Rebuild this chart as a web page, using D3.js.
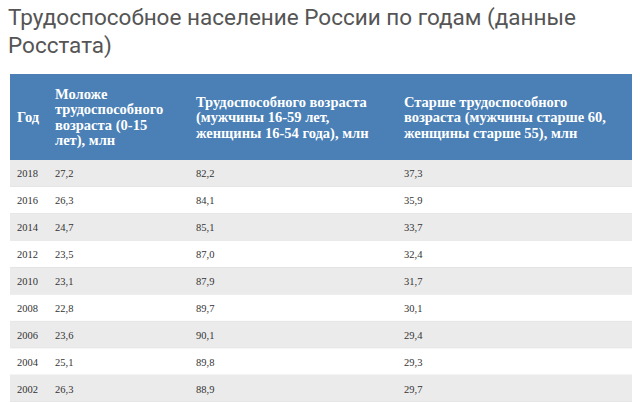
<!DOCTYPE html>
<html><head><meta charset="utf-8">
<script src="https://cdn.jsdelivr.net/npm/d3@7"></script>
<style>body{margin:0;background:#fff}</style>
</head><body><div id="chart"></div>
<script>
const titleLines = ["Трудоспособное население России по годам (данные", "Росстата)"];
const headers = [
  ["Год"],
  ["Моложе", "трудоспособного", "возраста (0-15", "лет), млн"],
  ["Трудоспособного возраста", "(мужчины 16-59 лет,", "женщины 16-54 года), млн"],
  ["Старше трудоспособного", "возраста (мужчины старше 60,", "женщины старше 55), млн"]
];
const years = ["2018", "2016", "2014", "2012", "2010", "2008", "2006", "2004", "2002"];
const young = ["27,2", "26,3", "24,7", "23,5", "23,1", "22,8", "23,6", "25,1", "26,3"];
const working = ["82,2", "84,1", "85,1", "87,0", "87,9", "89,7", "90,1", "89,8", "88,9"];
const old = ["37,3", "35,9", "33,7", "32,4", "31,7", "30,1", "29,4", "29,3", "29,7"];

const W = 640, H = 402, left = 10, right = 632, headTop = 74, headBottom = 160, rowH = 26.9;
const colX = [17, 55, 196, 404];

const svg = d3.select("#chart").append("svg").attr("width", W).attr("height", H);

svg.selectAll(".title").data(titleLines).enter().append("text")
  .attr("x", 8).attr("y", (d, i) => 25 + i * 28)
  .attr("font-family", "Roboto, 'Noto Sans', sans-serif").attr("font-size", 22.5)
  .attr("fill", "#555").text(d => d);

svg.append("rect").attr("x", left).attr("y", headTop).attr("width", right - left)
  .attr("height", headBottom - headTop).attr("fill", "#4a80b6");

const y = d3.scaleBand().domain(years).range([headBottom, headBottom + rowH * years.length]);

headers.forEach((lines, c) => {
  const lh = 15.5, y0 = (headTop + headBottom) / 2 - (lines.length - 1) * lh / 2 + 5;
  svg.append("g").selectAll("text").data(lines).enter().append("text")
    .attr("x", colX[c]).attr("y", (d, i) => y0 + i * lh)
    .attr("font-family", "'Liberation Serif', serif").attr("font-weight", "bold")
    .attr("font-size", 14.5).attr("fill", "#fff").text(d => d);
});

const rows = svg.selectAll(".row").data(years).enter().append("g")
  .attr("transform", d => `translate(0,${y(d)})`);
rows.append("rect").attr("x", left).attr("width", right - left).attr("height", y.bandwidth())
  .attr("fill", (d, i) => i % 2 === 0 ? "#ebebeb" : "#fff");
rows.append("line").attr("x1", left).attr("x2", right).attr("y1", y.bandwidth()).attr("y2", y.bandwidth())
  .attr("stroke", "#ddd");
const cols = [years, young, working, old];
cols.forEach((arr, c) => {
  rows.append("text").attr("x", colX[c]).attr("y", y.bandwidth() / 2 + 4)
    .attr("font-family", "'Liberation Serif', serif").attr("font-size", 10.5)
    .attr("fill", "#333").text((d, i) => arr[i]);
});
</script></body></html>
